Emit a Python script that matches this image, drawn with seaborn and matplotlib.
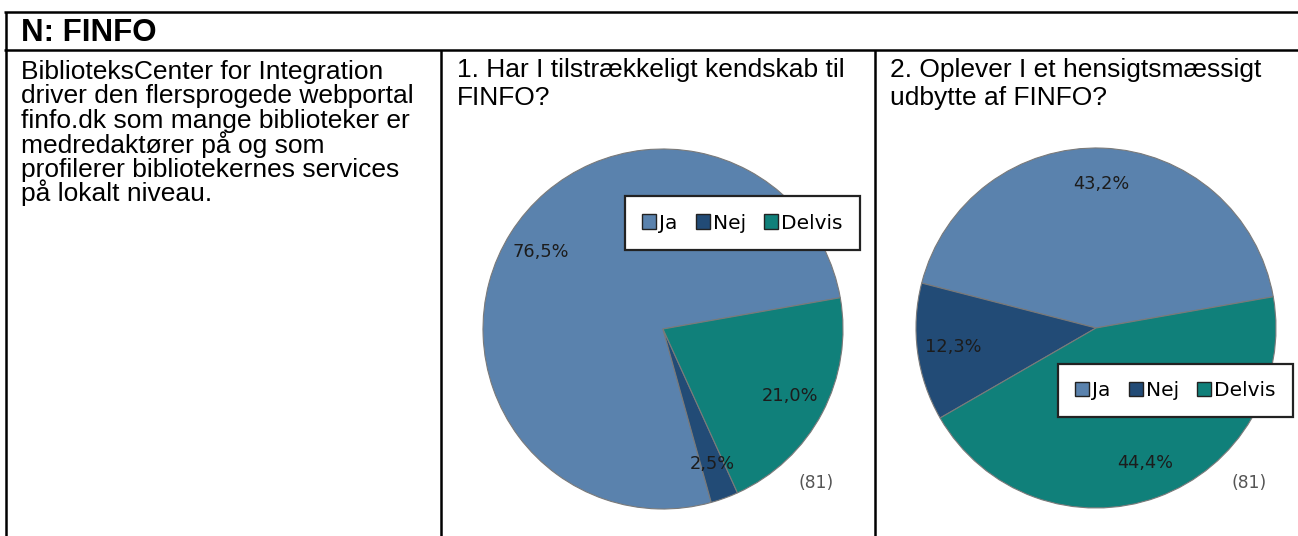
import matplotlib
matplotlib.use("Agg")
import matplotlib.pyplot as plt
import matplotlib.patches as mpatches
import seaborn as sns

# data
categories = ["Ja", "Nej", "Delvis"]
counts_q1 = [62, 2, 17]   # 76,5% / 2,5% / 21,0%
counts_q2 = [35, 10, 36]  # 43,2% / 12,3% / 44,4%
n_label = "(81)"
colors = ["#5A82AD", "#224B76", "#10807A"]

header = "N: FINFO"
intro_lines = ["BiblioteksCenter for Integration",
               "driver den flersprogede webportal",
               "finfo.dk som mange biblioteker er",
               "medredaktører på og som",
               "profilerer bibliotekernes services",
               "på lokalt niveau."]
title_q1 = ["1. Har I tilstrækkeligt kendskab til", "FINFO?"]
title_q2 = ["2. Oplever I et hensigtsmæssigt", "udbytte af FINFO?"]

sns.set_theme(style="white")
plt.rcParams['font.family'] = ['DejaVu Sans']
plt.rcParams['text.color'] = 'black'
ARIAL = ['Liberation Sans', 'DejaVu Sans']

W, H = 1298, 536
fig = plt.figure(figsize=(W / 100, H / 100), dpi=100)
fig.patch.set_facecolor("white")

# overlay in pixel coordinates for the table frame and text
base = fig.add_axes([0, 0, 1, 1])
base.set_xlim(0, W)
base.set_ylim(H, 0)
base.axis("off")

lw = 1.8
base.plot([4, W], [12.3, 12.3], color="black", lw=lw, solid_capstyle="butt")
base.plot([4, W], [50, 50], color="black", lw=lw, solid_capstyle="butt")
base.plot([5.5, 5.5], [11.5, H], color="black", lw=lw, solid_capstyle="butt")
for x in (440.7, 875):
    base.plot([x, x], [50, H], color="black", lw=lw, solid_capstyle="butt")

base.text(21, 41, header, family=ARIAL, fontsize=22.5, fontweight="bold",
          va="baseline", ha="left", color="black")
for i, line in enumerate(intro_lines):
    base.text(21, 79 + i * 24.5, line, family=ARIAL, fontsize=19,
              va="baseline", ha="left", color="black")
for x0, lines in ((457, title_q1), (890, title_q2)):
    for i, line in enumerate(lines):
        base.text(x0, 77 + i * 28, line, family=ARIAL, fontsize=19,
                  va="baseline", ha="left", color="black")


def pct(p):
    return f"{p:.1f}%".replace(".", ",")


def draw_pie(counts, cx, cy, r, legend_c):
    ax = fig.add_axes([(cx - r) / W, (H - cy - r) / H, 2 * r / W, 2 * r / H])
    wedges, _, autotexts = ax.pie(counts, colors=colors, startangle=10,
                                  counterclock=True, autopct=pct,
                                  pctdistance=0.8,
                                  wedgeprops=dict(edgecolor="#7a7a7a", linewidth=0.8))
    for t in autotexts:
        t.set_fontsize(12.8)
        t.set_color("#1c1c1c")
    ax.set_xlim(-1, 1)
    ax.set_ylim(-1, 1)
    ax.axis("off")
    base.text(cx + 153, 483, n_label, fontsize=12.3, color="#555555",
              ha="center", va="center")
    handles = [mpatches.Patch(facecolor=c, edgecolor="#222222", linewidth=1, label=l)
               for c, l in zip(colors, categories)]
    leg = fig.legend(handles=handles, loc="center", ncol=3,
                     bbox_to_anchor=(legend_c[0] / W, 1 - legend_c[1] / H),
                     fontsize=14.5, frameon=True, fancybox=False,
                     handlelength=0.7, handleheight=0.7, handletextpad=0.15,
                     columnspacing=0.9, borderpad=0.85, borderaxespad=0)
    for t in leg.get_texts():
        t.set_color("black")
    fr = leg.get_frame()
    fr.set_edgecolor("#222222")
    fr.set_linewidth(1.6)
    fr.set_facecolor("white")
    fr.set_alpha(1)


draw_pie(counts_q1, 663, 329, 180, (742.5, 223))
draw_pie(counts_q2, 1096, 328, 180, (1175.5, 390.5))

fig.savefig("out.png", dpi=100, facecolor="white")
